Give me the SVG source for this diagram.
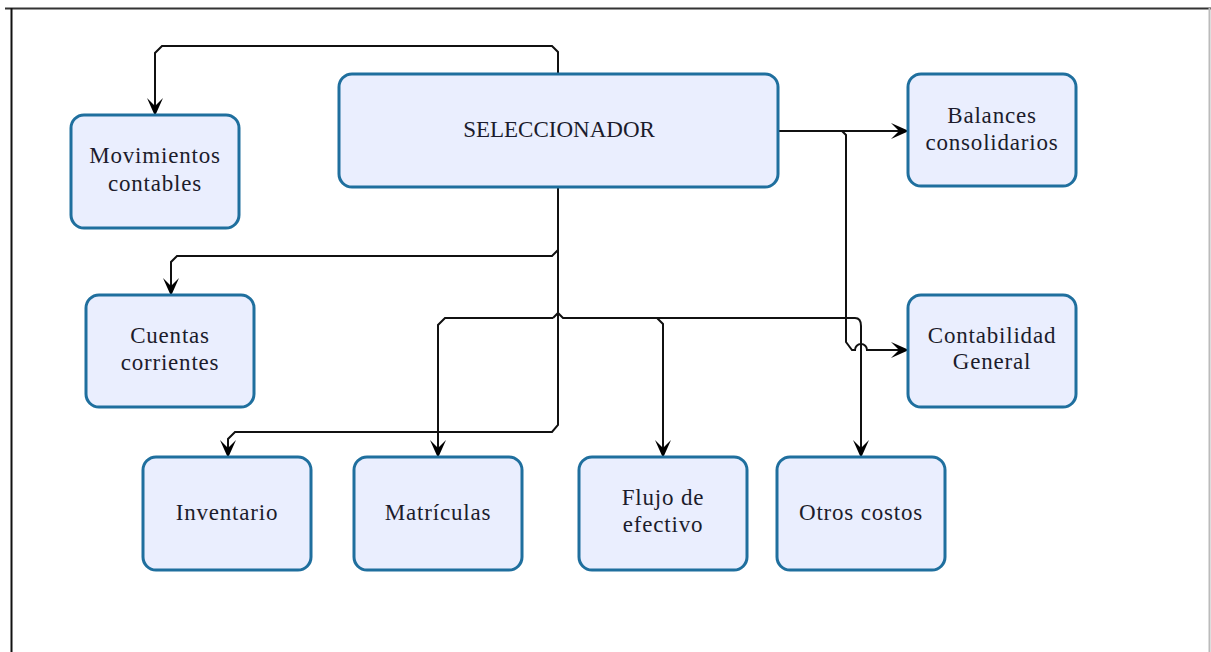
<svg xmlns="http://www.w3.org/2000/svg" width="1211" height="652" viewBox="0 0 1211 652">
<style>
.box{fill:#eaeefe;stroke:#1f6f9e;stroke-width:3}
.lbl{font-family:"Liberation Serif","Times New Roman",serif;font-size:23px;fill:#1c1c2c;text-anchor:middle;letter-spacing:0.8px}
.main{letter-spacing:0}
.con{fill:none;stroke:#111;stroke-width:2}
</style>
<defs>
<marker id="arr" markerUnits="userSpaceOnUse" viewBox="0 0 18 16" refX="17" refY="8" markerWidth="18" markerHeight="16" orient="auto">
<path d="M0,0 L18,8 L0,16 L8,8 Z" fill="#000"/>
</marker>
</defs>
<rect x="0" y="0" width="1211" height="652" fill="#fff"/>
<g id="frame">
<line x1="5" y1="8.5" x2="1211" y2="8.5" stroke="#333" stroke-width="2"/>
<line x1="11.5" y1="8" x2="11.5" y2="652" stroke="#111" stroke-width="2"/>
<line x1="1209.5" y1="8" x2="1209.5" y2="652" stroke="#bbb" stroke-width="2"/>
</g>
<g id="connectors">
<path class="con" d="M558,74 V52 L552,46 H162 L155,53 V115" marker-end="url(#arr)"/>
<path class="con" d="M778,131 H908" marker-end="url(#arr)"/>
<path class="con" d="M842,131 L846,135 V342 L852,350 H855 A6,6 0 0 1 867,350 H908" marker-end="url(#arr)"/>
<path class="con" d="M558,187 V250 L552,256 H177 L171,262 V295" marker-end="url(#arr)"/>
<path class="con" d="M558,250 V425 L552,432 H235 L228,439 V457" marker-end="url(#arr)"/>
<path class="con" d="M553,318 H445 L438,325 V457" marker-end="url(#arr)"/>
<path class="con" d="M553,318 L558,313 L563,318 H657 L663,324 V457" marker-end="url(#arr)"/>
<path class="con" d="M656,318 H855 Q861,318 861,326 V457" marker-end="url(#arr)"/>
</g>
<g id="n-movimientos">
<rect class="box" x="71" y="115" width="168" height="113" rx="13"/>
<text class="lbl" x="155" y="163">Movimientos</text>
<text class="lbl" x="155" y="191">contables</text>
</g>
<g id="n-seleccionador">
<rect class="box" x="339" y="74" width="439" height="113" rx="13"/>
<text class="lbl main" x="559" y="137">SELECCIONADOR</text>
</g>
<g id="n-balances">
<rect class="box" x="908" y="74" width="168" height="112" rx="13"/>
<text class="lbl" x="992" y="123">Balances</text>
<text class="lbl" x="992" y="150">consolidarios</text>
</g>
<g id="n-cuentas">
<rect class="box" x="86" y="295" width="168" height="112" rx="13"/>
<text class="lbl" x="170" y="343">Cuentas</text>
<text class="lbl" x="170" y="370">corrientes</text>
</g>
<g id="n-contabilidad">
<rect class="box" x="908" y="295" width="168" height="112" rx="13"/>
<text class="lbl" x="992" y="343">Contabilidad</text>
<text class="lbl" x="992" y="369">General</text>
</g>
<g id="n-inventario">
<rect class="box" x="143" y="457" width="168" height="113" rx="13"/>
<text class="lbl" x="227" y="520">Inventario</text>
</g>
<g id="n-matriculas">
<rect class="box" x="354" y="457" width="168" height="113" rx="13"/>
<text class="lbl" x="438" y="520">Matrículas</text>
</g>
<g id="n-flujo">
<rect class="box" x="579" y="457" width="168" height="113" rx="13"/>
<text class="lbl" x="663" y="505">Flujo de</text>
<text class="lbl" x="663" y="532">efectivo</text>
</g>
<g id="n-otros">
<rect class="box" x="777" y="457" width="168" height="113" rx="13"/>
<text class="lbl" x="861" y="520">Otros costos</text>
</g>
</svg>
